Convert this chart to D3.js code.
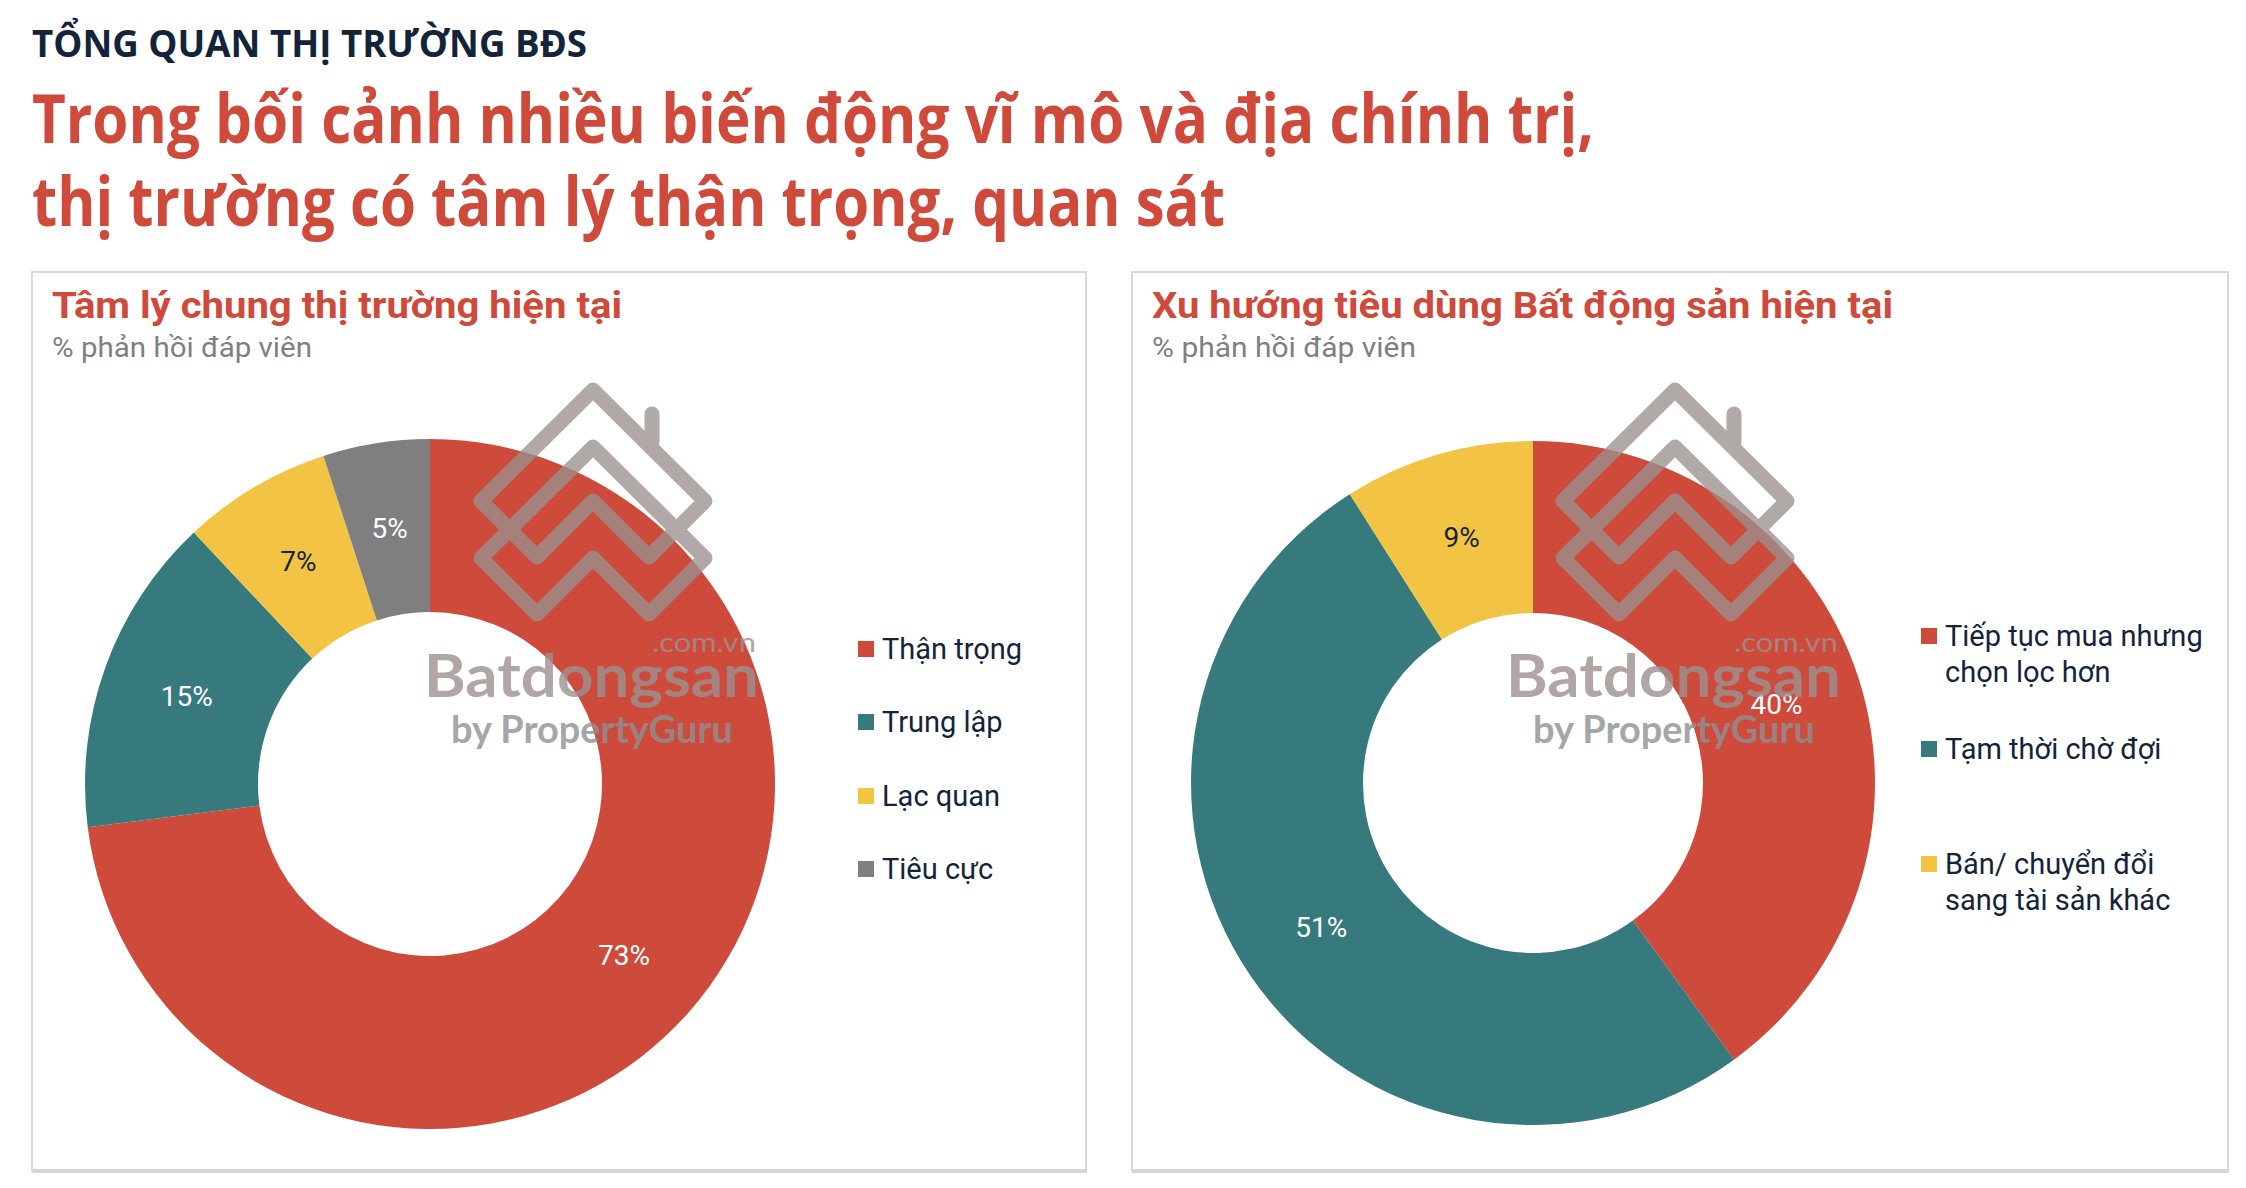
<!DOCTYPE html>
<html>
<head>
<meta charset="utf-8">
<script src="https://cdn.jsdelivr.net/npm/d3@7"></script>
<style>
  html, body { margin: 0; padding: 0; background: #ffffff; }
  svg { display: block; }
</style>
</head>
<body>
<svg id="chart" width="2246" height="1188"></svg>
<script>
// ---------------- DATA ----------------
const headerText = "TỔNG QUAN THỊ TRƯỜNG BĐS";
const titleLines = ["Trong bối cảnh nhiều biến động vĩ mô và địa chính trị,",
                    "thị trường có tâm lý thận trọng, quan sát"];

const sentimentTitle = "Tâm lý chung thị trường hiện tại";
const sentimentSubtitle = "% phản hồi đáp viên";
const sentimentCats = ["Thận trọng", "Trung lập", "Lạc quan", "Tiêu cực"];
const sentimentVals = [73, 15, 7, 5];

const trendTitle = "Xu hướng tiêu dùng Bất động sản hiện tại";
const trendSubtitle = "% phản hồi đáp viên";
const trendCats = [["Tiếp tục mua nhưng", "chọn lọc hơn"], ["Tạm thời chờ đợi"], ["Bán/ chuyển đổi", "sang tài sản khác"]];
const trendVals = [40, 51, 9];

const sentimentColors = ["#CE4B3C", "#367A7D", "#F3C343", "#7F7F7F"];
const sentimentLabelColors = ["#ffffff", "#ffffff", "#13243A", "#ffffff"];
const trendColors = ["#CE4B3C", "#367A7D", "#F3C343"];
const trendLabelColors = ["#ffffff", "#ffffff", "#13243A"];

// ---------------- DRAW ----------------
const svg = d3.select("#chart");
const navy = "#13243A";
const red = "#CF4A3A";

svg.append("text")
  .attr("x", 32).attr("y", 57)
  .attr("font-family", "'Open Sans', 'Noto Sans', sans-serif")
  .attr("font-weight", 700).attr("font-size", 38)
  .attr("fill", navy)
  .attr("textLength", 555).attr("lengthAdjust", "spacingAndGlyphs")
  .text(headerText);

const titleWidths = [1562, 1193];
const titleBaselines = [143, 226];
titleLines.forEach((t, i) => {
  svg.append("text")
    .attr("x", 32).attr("y", titleBaselines[i])
    .attr("font-family", "'Open Sans', 'Noto Sans', sans-serif")
    .attr("font-weight", 700).attr("font-size", 68)
    .attr("fill", red)
    .attr("textLength", titleWidths[i]).attr("lengthAdjust", "spacingAndGlyphs")
    .text(t);
});

function panel(cfg) {
  const g = svg.append("g");
  // frame
  g.append("rect")
    .attr("x", cfg.x0).attr("y", 272)
    .attr("width", cfg.x1 - cfg.x0).attr("height", 898)
    .attr("fill", "#ffffff").attr("stroke", "#d9d9d9").attr("stroke-width", 2);
  g.append("line")
    .attr("x1", cfg.x0).attr("x2", cfg.x1 + 1)
    .attr("y1", 1171).attr("y2", 1171)
    .attr("stroke", "#d6d6d6").attr("stroke-width", 4);

  g.append("text")
    .attr("x", cfg.x0 + 20).attr("y", 318)
    .attr("font-family", "Roboto, sans-serif")
    .attr("font-weight", 700).attr("font-size", 37)
    .attr("fill", red)
    .attr("textLength", cfg.titleW).attr("lengthAdjust", "spacingAndGlyphs")
    .text(cfg.title);
  g.append("text")
    .attr("x", cfg.x0 + 20).attr("y", 357)
    .attr("font-family", "Roboto, sans-serif")
    .attr("font-weight", 400).attr("font-size", 28)
    .attr("fill", "#7F7F7F")
    .attr("textLength", cfg.subW).attr("lengthAdjust", "spacingAndGlyphs")
    .text(cfg.subtitle);

  const pie = d3.pie().sort(null).value(d => d)(cfg.vals);
  const arc = d3.arc().innerRadius(cfg.rIn).outerRadius(cfg.rOut);
  const labelArc = d3.arc().innerRadius(cfg.rIn).outerRadius(cfg.rOut);
  const dg = g.append("g").attr("transform", `translate(${cfg.cx},${cfg.cy})`);
  dg.selectAll("path.slice").data(pie).join("path")
    .attr("class", "slice")
    .attr("d", arc)
    .attr("fill", (d, i) => cfg.colors[i]);
  dg.selectAll("text.lbl").data(pie).join("text")
    .attr("class", "lbl")
    .attr("transform", d => `translate(${labelArc.centroid(d)})`)
    .attr("text-anchor", "middle").attr("dy", "0.35em")
    .attr("font-family", "Roboto, sans-serif").attr("font-size", 28)
    .attr("fill", (d, i) => cfg.labelColors[i])
    .text(d => d.data + "%");

  // legend
  const lg = g.append("g");
  cfg.cats.forEach((c, i) => {
    const lines = Array.isArray(c) ? c : [c];
    const y = cfg.legendY[i];
    lg.append("rect")
      .attr("x", cfg.legendX).attr("y", y - 8)
      .attr("width", 16).attr("height", 16)
      .attr("fill", cfg.colors[i]);
    const t = lg.append("text")
      .attr("x", cfg.legendX + 24).attr("y", y)
      .attr("font-family", "Roboto, sans-serif").attr("font-size", 29)
      .attr("fill", navy);
    lines.forEach((ln, j) => {
      t.append("tspan").attr("x", cfg.legendX + 24)
        .attr("y", y + j * 36).attr("dy", "0.35em").text(ln);
    });
  });

  // watermark (Batdongsan logo)
  const wm = g.append("g").attr("transform", `translate(${cfg.wmDx},0)`);
  const icon = wm.append("g")
    .attr("fill", "none").attr("stroke", "#9C918F")
    .attr("stroke-width", 15).attr("stroke-linejoin", "round")
    .attr("stroke-linecap", "round").attr("opacity", 0.78);
  const shape = (dy) => `M481,${501 + dy} L593,${390 + dy} L705,${501 + dy} L649,${557 + dy} L593,${501 + dy} L537,${557 + dy} Z`;
  icon.append("path").attr("d", shape(0));
  icon.append("path").attr("d", shape(57));
  icon.append("path").attr("d", "M652,442 L652,414");
  wm.append("text")
    .attr("x", 424).attr("y", 697)
    .attr("font-family", "Lato, 'Open Sans', sans-serif").attr("font-weight", 700)
    .attr("font-size", 60).attr("fill", "#9C918F").attr("opacity", 0.8)
    .attr("textLength", 335).attr("lengthAdjust", "spacingAndGlyphs")
    .text("Batdongsan");
  wm.append("text")
    .attr("x", 652).attr("y", 652)
    .attr("font-family", "Lato, 'Open Sans', sans-serif").attr("font-weight", 400)
    .attr("font-size", 26).attr("fill", "#9C918F").attr("opacity", 0.8)
    .attr("textLength", 104).attr("lengthAdjust", "spacingAndGlyphs")
    .text(".com.vn");
  wm.append("text")
    .attr("x", 451).attr("y", 743)
    .attr("font-family", "Lato, 'Open Sans', sans-serif").attr("font-weight", 700)
    .attr("font-size", 38).attr("fill", "#8E9094").attr("opacity", 0.8)
    .attr("textLength", 282).attr("lengthAdjust", "spacingAndGlyphs")
    .text("by PropertyGuru");
}

panel({
  x0: 32, x1: 1086, title: sentimentTitle, subtitle: sentimentSubtitle,
  titleW: 570, subW: 260,
  vals: sentimentVals, cats: sentimentCats, colors: sentimentColors,
  labelColors: sentimentLabelColors,
  cx: 430, cy: 784, rOut: 345, rIn: 172,
  legendX: 858, legendY: [649, 722, 796, 869],
  wmDx: 0
});

panel({
  x0: 1132, x1: 2228, title: trendTitle, subtitle: trendSubtitle,
  titleW: 741, subW: 264,
  vals: trendVals, cats: trendCats, colors: trendColors,
  labelColors: trendLabelColors,
  cx: 1533, cy: 783, rOut: 342, rIn: 170,
  legendX: 1921, legendY: [636, 749, 864],
  wmDx: 1082
});
</script>
</body>
</html>
